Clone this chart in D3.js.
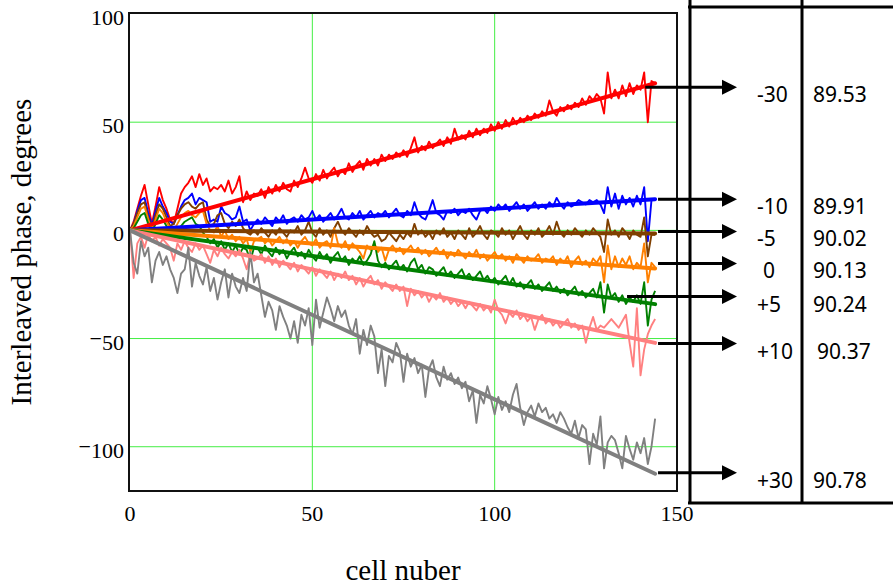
<!DOCTYPE html>
<html>
<head>
<meta charset="utf-8">
<script src="https://cdn.jsdelivr.net/npm/d3@7"></script>
<style>
body { margin: 0; background: #fff; }
</style>
</head>
<body>
<svg id="canvas" width="893" height="585"></svg>
<script>
let xTicks = [0, 50, 100, 150]
let yTicks = [-100, -50, 0, 50, 100]

// measured phase per cell (cell 0..144)
let redPhase = [0,4,10,16,21,12,3,11,20,14,10,5,3,10,17,20,22,25,20,26,21,24,18,20,19,21,18,23,17,20,25,13,18,14,17,16,
  19,15,20,17,21,18,22,19,18,23,20,24,29,24,22,
  26,23,28,24,27,29,25,28,26,31,27,30,32,28,33,
  30,33,30,35,32,35,33,36,34,37,34,38,43,36,39,
  37,41,38,40,42,39,43,40,47,42,44,42,46,43,47,
  44,47,45,49,46,50,47,51,48,52,49,52,50,53,51,
  54,52,55,53,60,55,53,57,55,58,56,59,57,61,58,
  62,60,63,61,54,73,61,65,61,67,62,68,63,67,65,73,50,69,68]
let bluePhase = [0,3,9,14,15,8,2,9,15,11,8,4,3,7,11,14,15,17,12,15,14,13,4,5,4,11,8,7,5,6,11,4,5,0,3,
  5,3,6,4,2,6,4,7,3,5,6,4,7,5,6,
  9,5,7,4,6,8,5,7,10,6,5,8,6,9,5,
  7,9,6,8,7,9,6,8,10,7,6,9,7,13,8,
  6,5,9,14,8,7,5,9,8,10,7,9,8,10,7,
  5,9,10,8,11,9,12,10,12,9,11,13,10,12,9,
  11,13,10,12,10,13,11,15,12,10,13,11,12,14,13,
  12,14,13,14,12,8,20,11,17,10,16,12,15,11,16,12,20,-5,14,14]
let brownPhase = [0,3,8,12,13,6,1,7,12,10,6,2,3,7,10,12,13,11,10,12,13,5,2,3,7,8,3,1,4,2,5,1,-1,-2,0,
  -2,1,-1,-3,0,-2,1,-1,-3,0,-1,2,-2,0,4,
  -1,-3,1,-2,0,-3,1,4,0,-2,1,-1,-3,0,-2,
  2,-1,-3,-2,-5,-4,-1,-3,-5,-2,-4,-1,-3,3,-2,
  0,-3,-1,-4,0,-2,1,-3,-1,-4,0,-2,-4,1,-3,
  -1,2,-2,-4,0,-1,-3,1,-2,0,-4,-1,2,-2,-4,
  0,-2,1,-3,-1,2,-2,4,-1,-3,0,-2,1,-1,-3,
  0,-2,1,-1,-3,-10,5,-2,0,-3,1,-1,-4,0,-2,-3,6,-12,-2,-2]
let orangePhase = [0,2,6,10,11,5,0,5,10,8,4,1,0,3,6,8,9,7,6,8,9,3,0,-1,2,-3,0,-4,-2,-5,-3,-6,-4,-10,-5,
  -4,-3,-6,-4,-7,-5,-3,-6,-4,-7,-5,-8,-5,-3,-6,
  -7,-4,-8,-6,-5,-8,1,-6,-8,-5,-9,-6,-8,-10,-13,
  -7,-9,-6,-10,-8,-14,-9,-7,-10,-8,-11,-9,-7,-10,-8,
  -11,-9,-12,-10,-8,-11,-9,-13,-10,-12,-9,-11,-13,-10,-12,
  -9,-13,-11,-14,-12,-10,-13,-11,-14,-12,-15,-11,-13,-15,-12,
  -14,-13,-11,-15,-13,-14,-12,-16,-13,-15,-12,-17,-14,-12,-16,
  -14,-17,-13,-15,-12,-24,-7,-18,-12,-17,-13,-16,-12,-18,-15,-17,-6,-24,-15,-17]
let greenPhase = [0,1,4,7,8,3,-1,3,7,5,2,-1,-3,0,2,4,5,6,3,2,-1,-3,-6,-4,-8,-5,-9,-6,-10,-7,-11,-8,-9,-14,-8,
  -8,-11,-7,-10,-12,-8,-11,-9,-13,-10,-8,-12,-10,-13,-9,
  -12,-14,-10,-13,-11,-15,-12,-10,-14,-12,-16,-13,-15,-12,-16,
  -14,-11,-5,-14,-17,-15,-18,-16,-14,-18,-16,-19,-15,-13,-18,
  -16,-20,-17,-18,-21,-19,-17,-21,-19,-22,-20,-18,-22,-20,-23,
  -21,-19,-23,-21,-24,-22,-25,-23,-21,-25,-22,-26,-24,-27,-25,
  -23,-27,-25,-28,-26,-24,-28,-26,-29,-27,-30,-28,-26,-30,-28,
  -31,-29,-27,-31,-24,-38,-25,-31,-29,-33,-30,-34,-31,-33,-30,-34,-24,-44,-32,-28]
let pinkPhase = [0,-22,-6,-3,-8,-2,-5,-3,-7,-4,-6,-8,-14,-6,-9,-5,-8,-10,-6,-9,-7,-11,-15,-9,-12,-8,-11,-13,-10,-12,-9,-13,-18,-11,-14,
  -13,-11,-15,-12,-16,-13,-17,-14,-16,-18,-15,-19,-16,-18,-20,
  -17,-21,-18,-20,-22,-19,-23,-20,-22,-19,-23,-21,-25,-22,-26,
  -23,-21,-25,-23,-27,-24,-26,-28,-25,-28,-26,-35,-27,-30,-28,
  -31,-29,-33,-30,-32,-29,-33,-31,-34,-32,-35,-33,-36,-33,-35,
  -37,-34,-37,-35,-38,-32,-37,-39,-43,-38,-40,-37,-41,-39,-42,
  -40,-46,-41,-39,-43,-41,-44,-42,-45,-43,-41,-45,-43,-46,-44,
  -52,-45,-40,-46,-44,-45,-43,-41,-43,-45,-42,-39,-52,-63,-36,-67,-55,-48,-44,-41]
let grayPhase = [0,-15,-20,-5,-12,-8,-24,-14,-10,-16,-12,-18,-22,-29,-20,-18,-8,-26,-15,-21,-25,-17,-28,-22,-32,-24,-18,-31,-20,-26,-29,-22,-28,-10,-24,
  -20,-30,-40,-33,-37,-46,-35,-40,-44,-50,-42,-52,-39,-44,-36,
  -53,-32,-45,-38,-31,-36,-42,-35,-40,-37,-44,-48,-41,-57,-46,
  -53,-44,-49,-66,-55,-72,-58,-61,-52,-56,-70,-57,-63,-59,-66,
  -62,-77,-64,-60,-68,-72,-63,-69,-66,-71,-68,-73,-70,-79,-74,
  -89,-76,-80,-72,-78,-85,-77,-83,-79,-84,-76,-71,-82,-90,-84,
  -81,-86,-80,-84,-82,-87,-85,-89,-84,-87,-91,-94,-88,-96,-90,
  -92,-108,-94,-99,-86,-110,-98,-95,-97,-103,-110,-95,-101,-106,-98,-103,-96,-108,-100,-87]

// straight fit lines: value at first and last cell
let fitCells = [0, 144]
let redFit = [0, 68]
let blueFit = [0, 14.4]
let brownFit = [0, -1.5]
let orangeFit = [0, -17.6]
let greenFit = [0, -34.1]
let pinkFit = [0, -52]
let grayFit = [0, -112.5]

let colors = ["#ff0000", "#0000ff", "#7f3f00", "#ff8000", "#008000", "#ff8080", "#808080"]

// arrows and table on the right
let arrowStart = [141.3, 144.8, 144.8, 144.8, 136.3, 144.8, 144.8]
let arrowLevel = [66.2, 14.4, -0.5, -15.3, -30.6, -52.3, -112]
let offsetLabels = ["-30", "-10", "-5", "0", "+5", "+10", "+30"]
let phaseLabels = ["89.53", "89.91", "90.02", "90.13", "90.24", "90.37", "90.78"]

let noisy = [redPhase, bluePhase, brownPhase, orangePhase, greenPhase, pinkPhase, grayPhase]
let fits = [redFit, blueFit, brownFit, orangeFit, greenFit, pinkFit, grayFit]

let canvas = d3.select("#canvas")

let x = d3.scaleLinear().domain([0, 150]).range([130, 677])
let y = d3.scaleLinear().domain([-120, 100]).range([490, 14])

let drawGrid = () => {
  canvas.append("g").selectAll("line")
    .data(xTicks.filter(d => d > 0 && d < 150))
    .enter().append("line")
    .attr("x1", d => x(d)).attr("x2", d => x(d))
    .attr("y1", y(100)).attr("y2", y(-120))
    .attr("stroke", "#44ee44").attr("stroke-width", 1)

  canvas.append("g").selectAll("line")
    .data(yTicks.filter(d => d < 100))
    .enter().append("line")
    .attr("x1", x(0)).attr("x2", x(150))
    .attr("y1", d => y(d)).attr("y2", d => y(d))
    .attr("stroke", "#44ee44").attr("stroke-width", 1)
}

let drawLines = () => {
  let line = d3.line()
    .x((d, i) => x(i))
    .y(d => y(d))

  canvas.append("g").selectAll("path")
    .data(noisy)
    .enter().append("path")
    .attr("d", line)
    .attr("fill", "none")
    .attr("stroke", (d, i) => colors[i])
    .attr("stroke-width", 1.9)
    .attr("stroke-linejoin", "round")

  let fitLine = d3.line()
    .x((d, i) => x(fitCells[i]))
    .y(d => y(d))

  canvas.append("g").selectAll("path")
    .data(fits)
    .enter().append("path")
    .attr("d", fitLine)
    .attr("fill", "none")
    .attr("stroke", (d, i) => colors[i])
    .attr("stroke-width", 4)
    .attr("stroke-linecap", "round")
}

let drawAxes = () => {
  canvas.append("rect")
    .attr("x", x(0) - 1).attr("y", y(100) - 1)
    .attr("width", x(150) - x(0) + 1).attr("height", y(-120) - y(100) + 2)
    .attr("fill", "none").attr("stroke", "#111").attr("stroke-width", 2)

  let yLabels = canvas.append("g").selectAll("text")
    .data(yTicks)
    .enter().append("text")
    .attr("x", 124)
    .attr("y", d => y(d) + 11)
    .attr("text-anchor", "end")
    .style("font", "22px 'Liberation Serif', serif")

  // raised minus like the original
  yLabels.filter(d => d < 0).append("tspan")
    .attr("dy", -4)
    .text("\u2212")
  yLabels.append("tspan")
    .attr("dy", d => d < 0 ? 4 : 0)
    .text(d => Math.abs(d))

  canvas.append("g").selectAll("text")
    .data(xTicks)
    .enter().append("text")
    .attr("x", d => x(d))
    .attr("y", 521)
    .attr("text-anchor", "middle")
    .style("font", "22px 'Liberation Serif', serif")
    .text(d => d)

  canvas.append("text")
    .attr("x", 403).attr("y", 580)
    .attr("text-anchor", "middle")
    .style("font", "29px 'Liberation Serif', serif")
    .text("cell nuber")

  canvas.append("text")
    .attr("transform", "translate(31,252) rotate(-90)")
    .attr("text-anchor", "middle")
    .style("font", "29px 'Liberation Serif', serif")
    .text("Interleaved phase, degrees")
}

let drawTable = () => {
  let t = canvas.append("g")
  t.append("line").attr("x1", 690).attr("x2", 690).attr("y1", 0).attr("y2", 503)
  t.append("line").attr("x1", 802).attr("x2", 802).attr("y1", 0).attr("y2", 503)
  t.append("line").attr("x1", 688).attr("x2", 893).attr("y1", 7).attr("y2", 7)
  t.append("line").attr("x1", 688).attr("x2", 893).attr("y1", 503).attr("y2", 503)
  t.selectAll("line").attr("stroke", "#000").attr("stroke-width", 3)

  let tip = 737, headLen = 15
  let arrows = canvas.append("g").selectAll("g")
    .data(arrowLevel)
    .enter().append("g")

  arrows.append("line")
    .attr("x1", (d, i) => x(arrowStart[i]))
    .attr("x2", tip - headLen + 1)
    .attr("y1", d => y(d)).attr("y2", d => y(d))
    .attr("stroke", "#000").attr("stroke-width", 3)

  arrows.append("path")
    .attr("d", d => {
      let yy = y(d)
      return "M" + tip + "," + yy + "L" + (tip - headLen) + "," + (yy - 7.5) + "L" + (tip - headLen) + "," + (yy + 7.5) + "Z"
    })
    .attr("fill", "#000")

  arrows.append("text")
    .attr("x", (d, i) => offsetLabels[i] === "0" ? 763 : 757)
    .attr("y", d => y(d) + 15)
    .style("font", "21px 'Noto Sans', sans-serif")
    .text((d, i) => offsetLabels[i])

  arrows.append("text")
    .attr("x", (d, i) => phaseLabels[i] === "90.37" ? 817 : 813)
    .attr("y", d => y(d) + 15)
    .style("font", "21px 'Noto Sans', sans-serif")
    .text((d, i) => phaseLabels[i])
}

drawGrid()
drawLines()
drawAxes()
drawTable()
</script>
</body>
</html>
